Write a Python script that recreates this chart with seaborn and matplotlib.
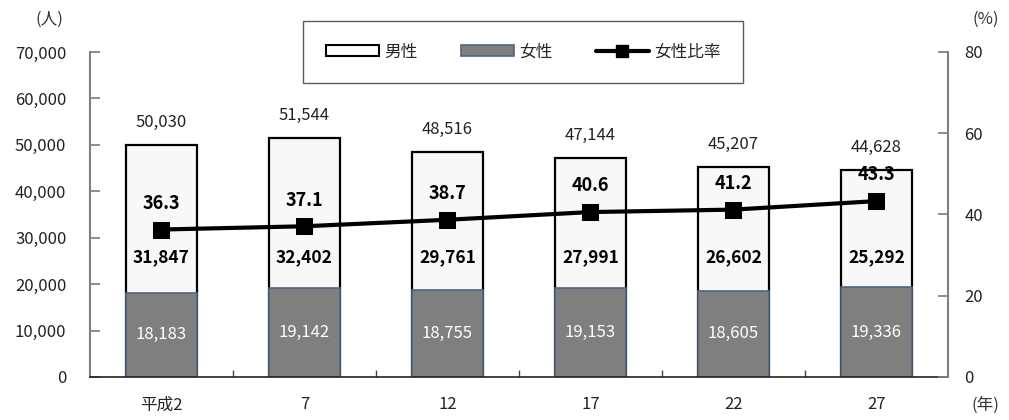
import numpy as np
import pandas as pd
import matplotlib
matplotlib.use("Agg")
import matplotlib.pyplot as plt
from matplotlib.patches import Patch
from matplotlib.lines import Line2D
import seaborn as sns

# --- data -------------------------------------------------------------
years = ["平成2", "7", "12", "17", "22", "27"]
male = [31847, 32402, 29761, 27991, 26602, 25292]
female = [18183, 19142, 18755, 19153, 18605, 19336]
total = [50030, 51544, 48516, 47144, 45207, 44628]
female_ratio = [36.3, 37.1, 38.7, 40.6, 41.2, 43.3]

left_ticks = [0, 10000, 20000, 30000, 40000, 50000, 60000, 70000]
right_ticks = [0, 20, 40, 60, 80]

sns.set_theme(style="white")
plt.rcParams["font.family"] = ["Noto Sans CJK JP", "DejaVu Sans"]

df = pd.DataFrame({"year": years, "male": male, "female": female,
                   "total": total, "ratio": female_ratio})

fig = plt.figure(figsize=(10.09, 4.2), dpi=100)
ax = fig.add_axes([0.0892, 0.1024, 0.8503, 0.7738])

# stacked bars: total (male on top) then female drawn over the lower part
sns.barplot(data=df, x="year", y="total", ax=ax, color="#f8f8f8",
            edgecolor="black", linewidth=1.6, width=0.5, saturation=1)
sns.barplot(data=df, x="year", y="female", ax=ax, color="#7f7f7f",
            edgecolor="#4f6580", linewidth=1.2, width=0.5, saturation=1)

ax.set_xlim(-0.5, len(years) - 0.5)
ax.set_ylim(0, 70000)
ax.set_yticks(left_ticks)
ax.set_yticklabels([f"{v:,}" for v in left_ticks], fontsize=12, color="#222222")
ax.set_xlabel("")
ax.set_ylabel("")
ax.set_xticks(range(len(years)))
ax.set_xticklabels(years, fontsize=12, color="#222222")
ax.set_xticks(np.arange(len(years) - 1) + 0.5, minor=True)
ax.tick_params(axis="x", which="major", length=0, pad=14)
ax.tick_params(axis="x", which="minor", direction="in", length=5,
               color="#444444", bottom=True)
ax.tick_params(axis="y", direction="in", length=7, color="#808080",
               pad=17, left=True)

for side in ["top", "right"]:
    ax.spines[side].set_visible(False)
ax.spines["left"].set_color("#808080")
ax.spines["left"].set_linewidth(1.5)
ax.spines["bottom"].set_color("#222222")
ax.spines["bottom"].set_linewidth(1.2)

# value labels on bars
for i, row in df.iterrows():
    ax.annotate(f"{row['total']:,}", (i, row["total"]), xytext=(0, 10),
                textcoords="offset points", ha="center", va="bottom",
                fontsize=12, color="#222222")
    ax.text(i, 25800, f"{row['male']:,}", ha="center", va="center",
            fontsize=12.5, fontweight="bold", color="black")
    ax.text(i, row["female"] / 2, f"{row['female']:,}", ha="center",
            va="center", fontsize=12, color="white")

# female ratio line on the secondary axis
ax2 = ax.twinx()
sns.lineplot(x=np.arange(len(years)), y=df["ratio"], ax=ax2, color="black",
             linewidth=3, marker="s", markersize=11, markeredgecolor="black")
ax2.set_ylim(0, 80)
ax2.set_yticks(right_ticks)
ax2.set_yticklabels([str(v) for v in right_ticks], fontsize=12, color="#222222")
ax2.set_ylabel("")
ax2.tick_params(axis="y", direction="in", length=7, color="#808080",
                pad=12, right=True)
for side in ["top", "left", "bottom"]:
    ax2.spines[side].set_visible(False)
ax2.spines["right"].set_color("#808080")
ax2.spines["right"].set_linewidth(1.5)

for i, r in enumerate(female_ratio):
    ax2.annotate(f"{r}", (i, r), xytext=(0, 12), textcoords="offset points",
                 ha="center", va="bottom", fontsize=13, fontweight="bold",
                 color="black")

# unit captions
fig.text(0.049, 0.955, "(人)", ha="center", va="center", fontsize=12, color="#333333")
fig.text(0.977, 0.955, "(%)", ha="center", va="center", fontsize=12, color="#333333")
fig.text(0.977, 0.035, "(年)", ha="center", va="center", fontsize=12, color="#333333")

handles = [
    Patch(facecolor="white", edgecolor="black", linewidth=1.5, label="男性"),
    Patch(facecolor="#7f7f7f", edgecolor="#4f6580", linewidth=1.2, label="女性"),
    Line2D([], [], color="black", linewidth=3, marker="s", markersize=8,
           label="女性比率"),
]
leg = fig.legend(handles=handles, loc="upper center",
                 bbox_to_anchor=(0.5185, 0.95), ncol=3, fontsize=12,
                 frameon=True, fancybox=False, edgecolor="#333333",
                 handlelength=3.2, handleheight=0.6, handletextpad=0.3,
                 columnspacing=2.6, borderpad=1.35, borderaxespad=0)
leg.get_frame().set_linewidth(1.0)

fig.savefig("out.png", dpi=100)
